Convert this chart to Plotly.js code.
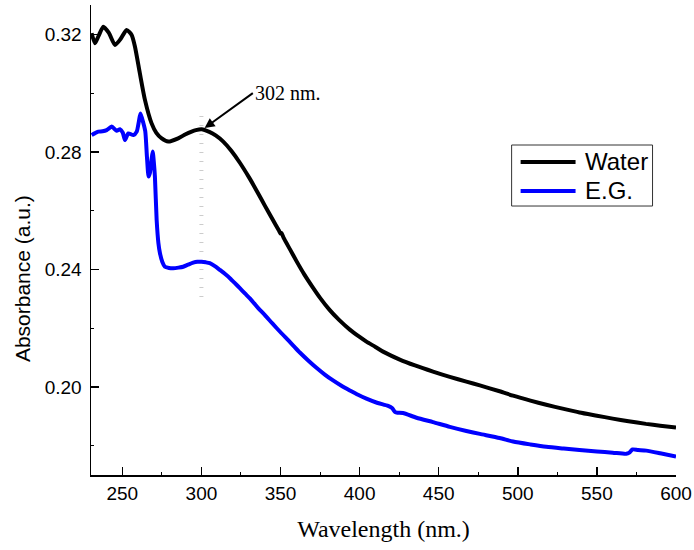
<!DOCTYPE html>
<html>
<head>
<meta charset="utf-8">
<script src="https://cdn.plot.ly/plotly-3.0.1.min.js"></script>
<style>html,body{margin:0;padding:0;background:#fff;}#chart{width:694px;height:550px;}</style>
</head>
<body>
<div id="chart"></div>
<script>
// Water series
const waterX = [230.6, 232.7, 235, 238.0, 241.5, 245.4, 249, 252.7, 255.9, 258.0, 261.1, 264.3, 268.5, 271.5, 274.9, 279.0, 285.3, 290, 293.8, 296.5, 300.1, 305, 309, 313.8, 319, 324.3, 330, 334.9, 340, 345.3, 349.0, 350.0, 350.6, 352, 356, 360.1, 365, 370.6, 375, 381, 387, 393.8, 400, 404.3, 410, 414.8, 425.4, 435, 446.4, 457, 467.5, 476, 488.5, 497, 508, 518, 529, 539, 550, 560, 570, 581, 590, 600];
const waterY = [0.3204, 0.3170, 0.3195, 0.3226, 0.3205, 0.3164, 0.3185, 0.3215, 0.3198, 0.3158, 0.3067, 0.2977, 0.2897, 0.2865, 0.2846, 0.2835, 0.2846, 0.2860, 0.2869, 0.2874, 0.2877, 0.2868, 0.2856, 0.2835, 0.2803, 0.2763, 0.2714, 0.2668, 0.2618, 0.2567, 0.2532, 0.2522, 0.2524, 0.2507, 0.2468, 0.2428, 0.2383, 0.2337, 0.2303, 0.2262, 0.2228, 0.2195, 0.2170, 0.2154, 0.2136, 0.2120, 0.2093, 0.2073, 0.2052, 0.2034, 0.2018, 0.2005, 0.1985, 0.1970, 0.1953, 0.1939, 0.1925, 0.1913, 0.1902, 0.1892, 0.1883, 0.1874, 0.1868, 0.1862];
// E.G. series
const egX = [230.6, 232.5, 234.8, 237.5, 240.1, 243.3, 246.4, 248.5, 250.3, 251.7, 253.8, 257.0, 259.1, 260.5, 261.5, 263.2, 264.5, 265.6, 266.6, 267.5, 268.5, 269.2, 270.0, 270.6, 271.7, 272.8, 273.8, 275.3, 276.9, 279.5, 282.2, 285.5, 288.5, 291.5, 294.8, 297.5, 300.1, 302.8, 305.3, 308.5, 311.7, 315, 318.0, 321, 324.3, 327.5, 330.6, 333.2, 335.9, 340, 345, 350, 355, 358.5, 362.2, 367.5, 372.7, 378, 383.2, 388.5, 393.8, 399, 404.3, 411, 418.0, 420.5, 422.5, 424, 427.4, 436, 446.4, 457, 467.5, 476, 488.5, 497, 508, 518, 529, 539, 550, 560, 568.5, 570.5, 572.5, 576, 581.2, 590, 600];
const egY = [0.2857, 0.2863, 0.2869, 0.2870, 0.2874, 0.2886, 0.2872, 0.2877, 0.2865, 0.2840, 0.2863, 0.2857, 0.2869, 0.2905, 0.2931, 0.2900, 0.2870, 0.2780, 0.2716, 0.2730, 0.2775, 0.2801, 0.2760, 0.2716, 0.2568, 0.2490, 0.2455, 0.2425, 0.2409, 0.2405, 0.2404, 0.2406, 0.2409, 0.2416, 0.2423, 0.2426, 0.2426, 0.2424, 0.2421, 0.2411, 0.2398, 0.2384, 0.2370, 0.2354, 0.2336, 0.2318, 0.2301, 0.2285, 0.2268, 0.2245, 0.2215, 0.2186, 0.2158, 0.2138, 0.2117, 0.2090, 0.2065, 0.2042, 0.2022, 0.2004, 0.1988, 0.1973, 0.1960, 0.1946, 0.1935, 0.1928, 0.1914, 0.1912, 0.1911, 0.1895, 0.1880, 0.1864, 0.1850, 0.1840, 0.1826, 0.1814, 0.1804, 0.1796, 0.1790, 0.1785, 0.1780, 0.1776, 0.1772, 0.1776, 0.1787, 0.1785, 0.1783, 0.1774, 0.1763];

const seriesNames = ["Water", "E.G."];
const seriesColors = ["#000000", "#0000ff"];
const xTicks = [250, 300, 350, 400, 450, 500, 550, 600];
const yTicks = [0.20, 0.24, 0.28, 0.32];
const peakLabel = "302 nm.";
const peakX = 302, peakY = 0.2881, labelX = 332.5, labelY = 0.300;
const guideX = 300, guideY0 = 0.2306, guideY1 = 0.2932;

const sans = "Arial, 'Liberation Sans', sans-serif";
const serif = "'Liberation Serif', 'Times New Roman', serif";

const traces = seriesNames.map((name, i) => ({
  x: i === 0 ? waterX : egX,
  y: i === 0 ? waterY : egY,
  name: name, type: "scatter", mode: "lines", showlegend: false,
  line: {color: seriesColors[i], width: 4, shape: "spline", smoothing: 0.6}
}));

// legend drawn in paper coordinates (box, sample lines, labels)
const legBox = {x0: 0.7190, x1: 0.9599, y0: 0.5723, y1: 0.7021};
const legLineX = [0.7344, 0.8283];
const legRowY = [0.6660, 0.6043];
const legTextX = 0.8403;

const shapes = [
  {type: "line", xref: "x", yref: "y", x0: guideX, x1: guideX, y0: guideY0, y1: guideY1,
   line: {color: "#cccccc", width: 4, dash: "1px,8px"}, layer: "below"},
  {type: "rect", xref: "paper", yref: "paper", x0: legBox.x0, x1: legBox.x1, y0: legBox.y0, y1: legBox.y1,
   line: {color: "#333333", width: 1}, fillcolor: "rgba(255,255,255,0)"}
];
seriesNames.forEach((n, i) => shapes.push({type: "line", xref: "paper", yref: "paper",
  x0: legLineX[0], x1: legLineX[1], y0: legRowY[i], y1: legRowY[i],
  line: {color: seriesColors[i], width: 4}}));

const annotations = [
  {x: peakX, y: peakY, xref: "x", yref: "y", ax: labelX, ay: labelY, axref: "x", ayref: "y",
   text: peakLabel, showarrow: true, arrowhead: 2, arrowsize: 1, arrowwidth: 2, arrowcolor: "#000",
   xanchor: "left", yanchor: "middle", font: {family: serif, size: 20, color: "#000"}},
  {x: -0.1178, y: 0.417, xref: "paper", yref: "paper", text: "Absorbance (a.u.)", textangle: -90,
   showarrow: false, xanchor: "center", yanchor: "middle", font: {family: sans, size: 21, color: "#000"}}
];
seriesNames.forEach((n, i) => annotations.push({x: legTextX, y: legRowY[i], xref: "paper", yref: "paper",
  text: n, showarrow: false, xanchor: "left", yanchor: "middle", font: {family: sans, size: 24, color: "#000"}}));

const layout = {
  width: 694, height: 550,
  margin: {l: 91, r: 17.5, t: 5, b: 75},
  paper_bgcolor: "#ffffff", plot_bgcolor: "#ffffff",
  showlegend: false,
  xaxis: {
    range: [230.2, 600], tickvals: xTicks, ticktext: xTicks.map(String),
    ticks: "inside", ticklen: 8, tickwidth: 1.5, tickcolor: "#000",
    showline: true, linecolor: "#000", linewidth: 1.5, mirror: false,
    showgrid: false, zeroline: false,
    tickfont: {family: sans, size: 19, color: "#000"},
    ticklabelstandoff: 1,
    minor: {tickvals: [275, 325, 375, 425, 475, 525, 575], ticks: "inside", ticklen: 3, tickwidth: 1, tickcolor: "#000"},
    title: {text: "Wavelength (nm.)", font: {family: serif, size: 24, color: "#000"}, standoff: 17}
  },
  yaxis: {
    range: [0.170, 0.330], tickvals: yTicks, ticktext: yTicks.map(v => v.toFixed(2)),
    ticks: "inside", ticklen: 8, tickwidth: 1.5, tickcolor: "#000",
    showline: true, linecolor: "#000", linewidth: 1.5, mirror: false,
    showgrid: false, zeroline: false,
    tickfont: {family: sans, size: 19, color: "#000"},
    ticklabelstandoff: 4,
    minor: {tickvals: [0.18, 0.22, 0.26, 0.30], ticks: "inside", ticklen: 3, tickwidth: 1, tickcolor: "#000"}
  },
  shapes: shapes,
  annotations: annotations
};

Plotly.newPlot("chart", traces, layout, {displayModeBar: false, staticPlot: true});
</script>
</body>
</html>
